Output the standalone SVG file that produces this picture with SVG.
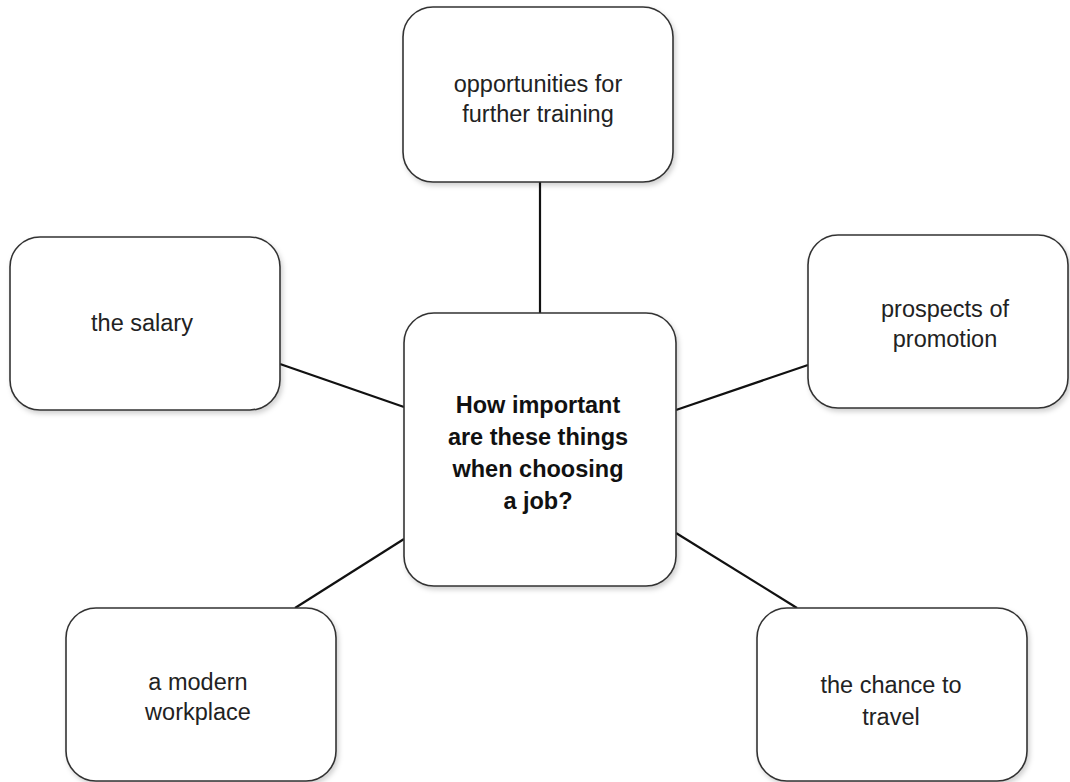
<svg xmlns="http://www.w3.org/2000/svg" width="1070" height="782" viewBox="0 0 1070 782">
<style>
.box{fill:#fff;stroke:#333;stroke-width:1.6;filter:url(#sh)}
.t{font-family:"Liberation Sans",Arial,sans-serif;font-size:23.5px;fill:#222;text-anchor:middle}
.b{font-weight:bold;fill:#111}
.c{stroke:#111;stroke-width:2.2;fill:none}
</style>
<defs>
<filter id="sh" x="-10%" y="-10%" width="120%" height="120%">
<feDropShadow dx="2" dy="3" stdDeviation="2.5" flood-color="#000" flood-opacity="0.18"/>
</filter>
</defs>
<rect width="1070" height="782" fill="#fff"/>
<g id="connectors">
<line class="c" x1="540" y1="182" x2="540" y2="313"/>
<line class="c" x1="280" y1="364" x2="404" y2="407"/>
<line class="c" x1="808" y1="365" x2="676" y2="410"/>
<line class="c" x1="404" y1="539" x2="295" y2="608"/>
<line class="c" x1="676" y1="533" x2="797" y2="608"/>
</g>
<g id="training">
<rect class="box" x="403" y="7" width="270" height="175" rx="30"/>
<text class="t" x="538" y="92">opportunities for</text>
<text class="t" x="538" y="122">further training</text>
</g>
<g id="salary">
<rect class="box" x="10" y="237" width="270" height="173" rx="30"/>
<text class="t" x="142" y="331">the salary</text>
</g>
<g id="promotion">
<rect class="box" x="808" y="235" width="260" height="173" rx="30"/>
<text class="t" x="945" y="317">prospects of</text>
<text class="t" x="945" y="347">promotion</text>
</g>
<g id="center">
<rect class="box" x="404" y="313" width="272" height="273" rx="30"/>
<text class="t b" x="538" y="413">How important</text>
<text class="t b" x="538" y="445">are these things</text>
<text class="t b" x="538" y="477">when choosing</text>
<text class="t b" x="538" y="509">a job?</text>
</g>
<g id="workplace">
<rect class="box" x="66" y="608" width="270" height="173" rx="30"/>
<text class="t" x="198" y="690">a modern</text>
<text class="t" x="198" y="720">workplace</text>
</g>
<g id="travel">
<rect class="box" x="757" y="608" width="270" height="173" rx="30"/>
<text class="t" x="891" y="693">the chance to</text>
<text class="t" x="891" y="725">travel</text>
</g>
</svg>
